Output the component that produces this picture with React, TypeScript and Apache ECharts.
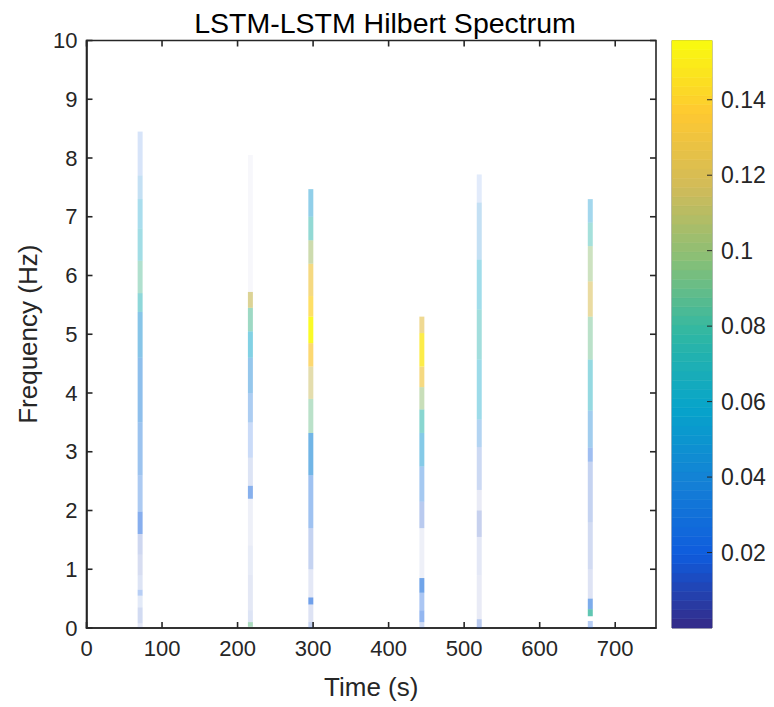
import React, { useEffect, useRef } from 'react';
import * as echarts from 'echarts';

// ---- data ----
const TITLE = 'LSTM-LSTM Hilbert Spectrum';
const X_NAME = 'Time (s)';
const Y_NAME = 'Frequency (Hz)';
const X_MIN = 0;
const X_MAX = 754;
const X_INTERVAL = 100;
const Y_MIN = 0;
const Y_MAX = 10;
const Y_INTERVAL = 1;
const AMP_MIN = 0;
const AMP_MAX = 0.1557;
const AMP_INTERVAL = 0.02;
const BAR_WIDTH_S = 6.6;

// tick positions
const xTicks = [0, 100, 200, 300, 400, 500, 600, 700];
const yTicks = [0, 1, 2, 3, 4, 5, 6, 7, 8, 9, 10];
const cbTicks = [0.02, 0.04, 0.06, 0.08, 0.1, 0.12, 0.14];

// burst centre times (s)
const burstTimes = [71, 217, 297, 444, 520, 667];

// segments per burst: [fLow (Hz), fHigh (Hz), amplitude, opacity]
const burst1 = [
  [0.0, 0.08, 0.01, 0.12], [0.08, 0.35, 0.012, 0.2], [0.35, 0.55, 0.015, 0.12],
  [0.55, 0.65, 0.02, 0.3], [0.65, 0.9, 0.012, 0.15], [0.9, 1.25, 0.01, 0.18],
  [1.25, 1.6, 0.012, 0.22], [1.6, 1.98, 0.02, 0.5], [1.98, 2.6, 0.025, 0.35],
  [2.6, 3.5, 0.03, 0.42], [3.5, 4.6, 0.035, 0.48], [4.6, 5.38, 0.045, 0.5],
  [5.38, 5.7, 0.07, 0.5], [5.7, 6.25, 0.085, 0.45], [6.25, 6.8, 0.065, 0.4],
  [6.8, 7.3, 0.055, 0.35], [7.3, 7.7, 0.04, 0.25], [7.7, 8.45, 0.02, 0.17],
];
const burst2 = [
  [0.02, 0.1, 0.09, 0.55], [0.1, 0.3, 0.012, 0.15], [0.3, 0.9, 0.008, 0.12],
  [0.9, 1.4, 0.01, 0.1], [1.4, 2.2, 0.008, 0.08], [2.2, 2.42, 0.022, 0.5],
  [2.42, 2.9, 0.012, 0.15], [2.9, 3.5, 0.02, 0.22], [3.5, 4.0, 0.03, 0.35],
  [4.0, 4.6, 0.04, 0.45], [4.6, 5.05, 0.058, 0.5], [5.05, 5.45, 0.085, 0.55],
  [5.45, 5.72, 0.115, 0.65], [5.72, 8.05, 0.005, 0.04],
];
const burst3 = [
  [0.0, 0.1, 0.015, 0.25], [0.1, 0.4, 0.01, 0.15], [0.4, 0.52, 0.022, 0.6],
  [0.52, 1.0, 0.01, 0.12], [1.0, 1.7, 0.015, 0.25], [1.7, 2.6, 0.025, 0.4],
  [2.6, 3.32, 0.04, 0.6], [3.32, 3.9, 0.09, 0.45], [3.9, 4.45, 0.115, 0.5],
  [4.45, 4.85, 0.135, 0.7], [4.85, 5.3, 0.155, 0.9], [5.3, 5.65, 0.14, 0.72],
  [5.65, 6.2, 0.13, 0.65], [6.2, 6.6, 0.105, 0.55], [6.6, 7.0, 0.075, 0.5],
  [7.0, 7.47, 0.05, 0.45],
];
const burst4 = [
  [0.0, 0.1, 0.015, 0.2], [0.1, 0.3, 0.02, 0.45], [0.3, 0.6, 0.02, 0.35],
  [0.6, 0.85, 0.025, 0.6], [0.85, 1.7, 0.008, 0.08], [1.7, 2.15, 0.015, 0.3],
  [2.15, 2.75, 0.03, 0.38], [2.75, 3.32, 0.05, 0.5], [3.32, 3.72, 0.075, 0.55],
  [3.72, 4.1, 0.1, 0.5], [4.1, 4.45, 0.13, 0.65], [4.45, 5.02, 0.148, 0.8],
  [5.02, 5.3, 0.125, 0.6],
];
const burst5 = [
  [0.0, 0.15, 0.015, 0.3], [0.15, 0.9, 0.008, 0.1], [0.9, 1.55, 0.01, 0.12],
  [1.55, 2.0, 0.012, 0.25], [2.0, 2.35, 0.008, 0.1], [2.35, 3.08, 0.015, 0.22],
  [3.08, 3.55, 0.035, 0.32], [3.55, 4.57, 0.06, 0.4], [4.57, 5.42, 0.072, 0.42],
  [5.42, 6.27, 0.06, 0.38], [6.27, 7.24, 0.04, 0.25], [7.24, 7.72, 0.02, 0.12],
];
const burst6 = [
  [0.0, 0.12, 0.02, 0.3], [0.2, 0.32, 0.08, 0.8], [0.32, 0.5, 0.025, 0.55],
  [0.5, 1.0, 0.01, 0.15], [1.0, 1.8, 0.012, 0.2], [1.8, 2.83, 0.015, 0.25],
  [2.83, 3.07, 0.02, 0.4], [3.07, 3.7, 0.04, 0.4], [3.7, 4.57, 0.065, 0.45],
  [4.57, 5.3, 0.09, 0.45], [5.3, 5.9, 0.12, 0.55], [5.9, 6.5, 0.1, 0.45],
  [6.5, 6.9, 0.075, 0.42], [6.9, 7.3, 0.05, 0.38],
];
const bursts = [burst1, burst2, burst3, burst4, burst5, burst6];

// parula colormap stops
const parula = ['#352a87', '#0f5cdd', '#1481d6', '#06a4ca', '#2eb7a4', '#87bf77', '#d1bb59', '#fec832', '#f9fb0e'];
const COLORBAR_LEVELS = 64;

// ---- build series data ----
const spectrumData: number[][] = [];
burstTimes.forEach((t, i) => {
  bursts[i].forEach(([f0, f1, amp, alpha]) => {
    spectrumData.push([t, f0, f1, amp, alpha]);
  });
});

const colorbarData: number[][] = [];
for (let k = 0; k < COLORBAR_LEVELS; k++) {
  const v0 = AMP_MIN + ((AMP_MAX - AMP_MIN) * k) / COLORBAR_LEVELS;
  const v1 = AMP_MIN + ((AMP_MAX - AMP_MIN) * (k + 1)) / COLORBAR_LEVELS;
  colorbarData.push([0, v0, v1, (v0 + v1) / 2]);
}

// tick marks: [value, kind] kind 0 = x tick, 1 = y tick
const tickData: number[][] = [
  ...xTicks.map((v) => [v, 0]),
  ...yTicks.map((v) => [v, 1]),
];
const cbTickData: number[][] = cbTicks.map((v) => [v]);

const FONT = '"Liberation Sans", Arial, Helvetica, sans-serif';
const AX = '#262626';
const TICK_LEN = 6;
const CB_TICK_LEN = 5;

const mkLine = () => ({ show: true, onZero: false, lineStyle: { color: AX, width: 1.6 } });

export default function App() {
  const ref = useRef<HTMLDivElement>(null);
  useEffect(() => {
    if (!ref.current) return;
    const chart = echarts.init(ref.current, undefined, { renderer: 'svg' });
    const option: any = {
      animation: false,
      backgroundColor: '#ffffff',
      title: {
        text: TITLE,
        left: 380,
        top: 3,
        textAlign: 'center',
        textStyle: { fontFamily: FONT, fontSize: 28.5, fontWeight: 'normal', color: '#000' },
      },
      grid: [
        { left: 86.5, top: 40.5, width: 569.5, height: 587.5, show: true, borderColor: AX, borderWidth: 1.6, backgroundColor: 'transparent' },
        { left: 672, top: 40.5, width: 40, height: 587.5, show: true, borderColor: '#7a7a7a', borderWidth: 1, backgroundColor: 'transparent' },
      ],
      visualMap: {
        type: 'continuous',
        show: false,
        min: AMP_MIN,
        max: AMP_MAX,
        dimension: 3,
        seriesIndex: [0, 1],
        inRange: { color: parula },
      },
      xAxis: [
        {
          type: 'value', gridIndex: 0, min: X_MIN, max: X_MAX, interval: X_INTERVAL,
          position: 'bottom',
          name: X_NAME, nameLocation: 'middle', nameGap: 46,
          nameTextStyle: { fontFamily: FONT, fontSize: 26, color: AX },
          axisLine: mkLine(), axisTick: { show: false },
          axisLabel: { fontFamily: FONT, fontSize: 22, color: AX, margin: 9, showMaxLabel: false },
          splitLine: { show: false },
        },
        {
          type: 'value', gridIndex: 1, min: 0, max: 1, show: false,
        },
      ],
      yAxis: [
        {
          type: 'value', gridIndex: 0, min: Y_MIN, max: Y_MAX, interval: Y_INTERVAL,
          position: 'left',
          name: Y_NAME, nameLocation: 'middle', nameGap: 46, nameRotate: 90,
          nameTextStyle: { fontFamily: FONT, fontSize: 26, color: AX },
          axisLine: mkLine(), axisTick: { show: false },
          axisLabel: { fontFamily: FONT, fontSize: 22, color: AX, margin: 9 },
          splitLine: { show: false },
        },
        {
          type: 'value', gridIndex: 1, min: AMP_MIN, max: AMP_MAX, interval: AMP_INTERVAL,
          position: 'right',
          axisLine: { show: false },
          axisTick: { show: false },
          axisLabel: {
            fontFamily: FONT, fontSize: 23, color: AX, margin: 9, showMaxLabel: false,
            formatter: (v: number) => (v <= 1e-9 ? '' : String(+v.toFixed(2))),
          },
          splitLine: { show: false },
        },
      ],
      series: [
        {
          type: 'custom',
          xAxisIndex: 0,
          yAxisIndex: 0,
          data: spectrumData,
          renderItem: (params: any, api: any) => {
            const t = api.value(0);
            const a = api.coord([t - BAR_WIDTH_S / 2, api.value(1)]);
            const b = api.coord([t + BAR_WIDTH_S / 2, api.value(2)]);
            return {
              type: 'rect',
              shape: { x: a[0], y: b[1], width: b[0] - a[0], height: a[1] - b[1] },
              style: { fill: api.visual('color'), opacity: api.value(4) },
            };
          },
        },
        {
          type: 'custom',
          xAxisIndex: 1,
          yAxisIndex: 1,
          data: colorbarData,
          z: 1,
          renderItem: (params: any, api: any) => {
            const a = api.coord([0, api.value(1)]);
            const b = api.coord([1, api.value(2)]);
            const c = api.visual('color');
            return {
              type: 'rect',
              shape: { x: a[0], y: b[1], width: b[0] - a[0], height: a[1] - b[1] },
              style: { fill: c, stroke: c, lineWidth: 0.6 },
            };
          },
        },
        {
          type: 'custom',
          xAxisIndex: 0,
          yAxisIndex: 0,
          data: tickData,
          z: 5,
          silent: true,
          renderItem: (params: any, api: any) => {
            const v = api.value(0);
            const kind = api.value(1);
            const st = { stroke: AX, lineWidth: 1.6 };
            if (kind === 0) {
              const p = api.coord([v, Y_MIN]);
              const q = api.coord([v, Y_MAX]);
              return {
                type: 'group',
                children: [
                  { type: 'line', shape: { x1: p[0], y1: p[1], x2: p[0], y2: p[1] - TICK_LEN }, style: st },
                  { type: 'line', shape: { x1: q[0], y1: q[1], x2: q[0], y2: q[1] + TICK_LEN }, style: st },
                ],
              };
            }
            const p = api.coord([X_MIN, v]);
            const q = api.coord([X_MAX, v]);
            return {
              type: 'group',
              children: [
                { type: 'line', shape: { x1: p[0], y1: p[1], x2: p[0] + TICK_LEN, y2: p[1] }, style: st },
                { type: 'line', shape: { x1: q[0], y1: q[1], x2: q[0] - TICK_LEN, y2: q[1] }, style: st },
              ],
            };
          },
        },
        {
          type: 'custom',
          xAxisIndex: 1,
          yAxisIndex: 1,
          data: cbTickData,
          z: 5,
          silent: true,
          renderItem: (params: any, api: any) => {
            const p = api.coord([1, api.value(0)]);
            return {
              type: 'line',
              shape: { x1: p[0], y1: p[1], x2: p[0] - CB_TICK_LEN, y2: p[1] },
              style: { stroke: AX, lineWidth: 1 },
            };
          },
        },
      ],
    };
    chart.setOption(option);
    return () => chart.dispose();
  }, []);
  return (
    <div
      ref={ref}
      style={{ position: 'fixed', left: 0, top: 0, width: 774, height: 707, background: '#fff' }}
    />
  );
}
